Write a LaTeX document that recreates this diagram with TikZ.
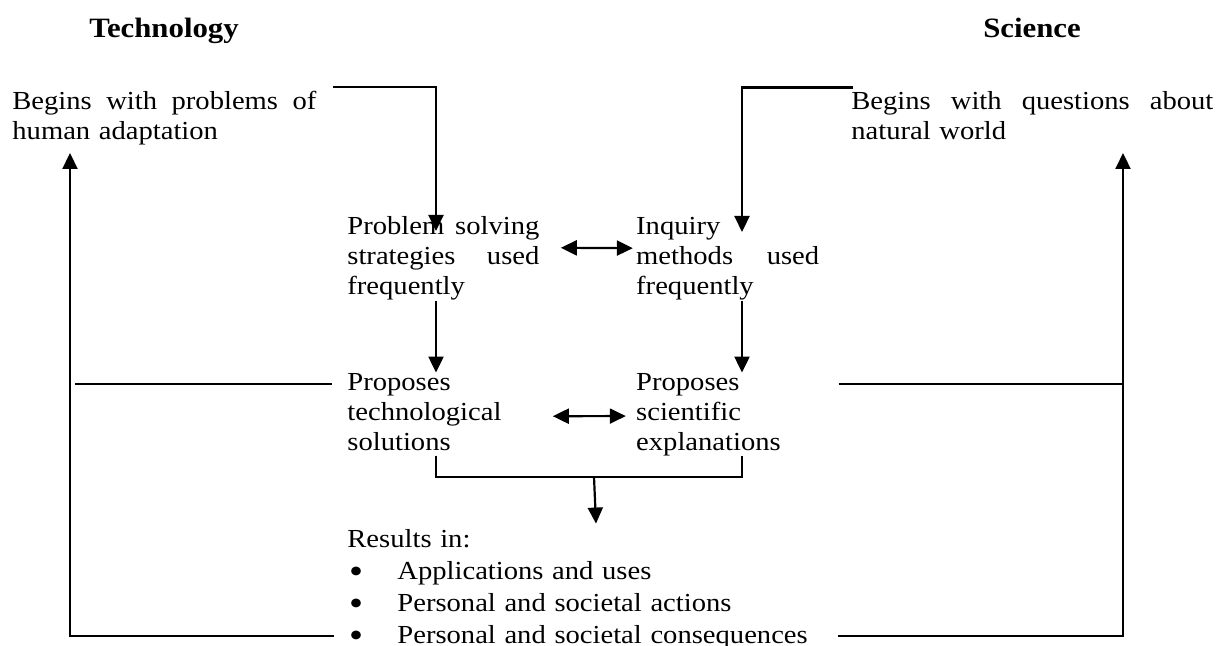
\documentclass[tikz,border=0pt]{standalone}
\usepackage{fontspec}
\setmainfont{Liberation Serif}[FakeStretch=1.1]
\usetikzlibrary{arrows.meta,positioning,calc}
\newcommand{\bulletitem}{\makebox[25pt][l]{\hspace{0.8pt}\raisebox{-2.2pt}{\scalebox{1.4}{\textbullet}}}}

\begin{document}
\begin{tikzpicture}[x=0.5pt,y=-0.5pt,every node/.style={inner sep=0pt},
    box/.style={anchor=base west,text width=#1,align=left,font=\fontsize{13}{15}\selectfont},
    head/.style={anchor=base,font=\fontsize{14}{16}\selectfont\bfseries},
    line/.style={line width=1.1pt},
    flow/.style={line,-{Triangle[width=7.5pt,length=8pt]}},
    both/.style={line,{Triangle[width=7.5pt,length=8pt]}-{Triangle[width=7.5pt,length=8pt]}}]

            \useasboundingbox (0,0) rectangle (1225,646);

            \node[head] (techhead) at (164,38) {Technology};

            \node[head] (scihead) at (1032,38) {Science};

            \node[box=152pt] (techstart) at (12,110) {Begins \hfill with \hfill problems \hfill of\\human adaptation};

            \node[box=181pt] (scistart) at (851,110) {Begins \hfill with \hfill questions \hfill about\\natural world};

            \node[box=96pt] (techsolve) at (347,235) {Problem \hfill solving\\strategies \hfill used\\frequently};

            \node[box=91.5pt] (sciinq) [right=48pt of techsolve.base east,anchor=base west] {Inquiry\\methods \hfill used\\frequently};

            \node[box=96pt] (techprop) [below=77.5pt of techsolve.base west,anchor=base west] {Proposes\\technological\\solutions};

            \node[box=91.5pt] (sciprop) [right=48pt of techprop.base east,anchor=base west] {Proposes\\scientific\\explanations};

            \node[box=260pt,font=\fontsize{13}{16}\selectfont] (results) [below=78.5pt of techprop.base west,anchor=base west]
                 {Results in:\\\bulletitem Applications and uses\\\bulletitem Personal and societal actions\\\bulletitem Personal and societal consequences};

            \coordinate (tin) at (436,231);
            \coordinate (sin) at (742,232);
            \coordinate (lup) at (70,153);
            \coordinate (rup) at (1123,153);
            \coordinate (lbot) at (70,636);
            \coordinate (rbot) at (1123,636);
            \coordinate (lmid) at (75,384);
            \coordinate (rmid) at (1123,384);
            \coordinate (bm) at (594,477);
            \coordinate (rend) at (838,636);

            \draw[flow] ([xshift=8pt,yshift=2pt]techstart.north east) -| (tin);
            \draw[flow] ([xshift=1pt,yshift=2pt]scistart.north west) -| (sin);

            \draw[flow] (techsolve.south -| tin) -- (techprop.north -| tin);
            \draw[flow] (sciinq.south -| sin) -- (sciprop.north -| sin);

            \draw[both] ([xshift=10.5pt,yshift=5.5pt]techsolve.east) -- ([xshift=-1.5pt,yshift=5.5pt]sciinq.west);
            \draw[both] ([xshift=6.5pt,yshift=-2.3pt]techprop.east) -- ([xshift=-5pt,yshift=-0.9pt]sciprop.west);

            \draw[line] ($(techprop.south -| tin)+(0,5)$) |- (bm) -| (sciprop.south -| sin);
            \draw[flow] (bm) -- ($(results.north -| bm)+(2,-5)$);

            \draw[line] ([xshift=-7.5pt,yshift=3pt]techprop.base west) -- (lmid);
            \draw[line] ([xshift=9.5pt,yshift=3pt]sciprop.base east) -- (rmid);

            \draw[flow] ($(results.west |- lbot)+(-13,0)$) -- (lbot) -- (lup);
            \draw[flow] (rend) -- (rbot) -- (rup);

        \end{tikzpicture}
\end{document}
